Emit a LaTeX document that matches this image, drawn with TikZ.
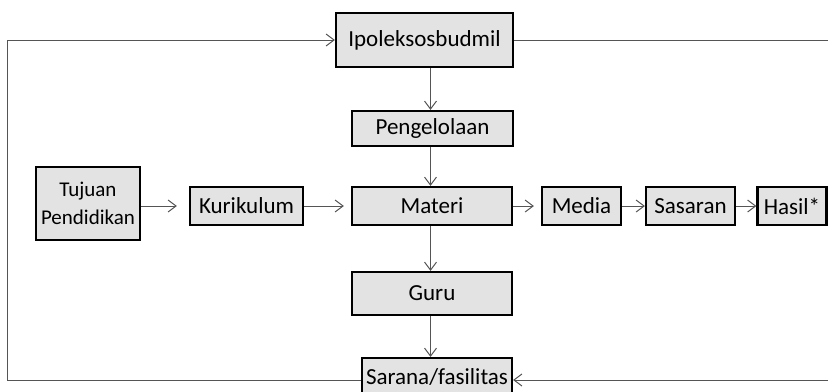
\documentclass[tikz,border=0pt]{standalone}
\usepackage{fontspec}
\setmainfont{Carlito}
\usetikzlibrary{positioning, arrows.meta}
\definecolor{boxgray}{HTML}{E3E3E3}
\definecolor{linegray}{HTML}{555555}

\begin{document}
\begin{tikzpicture}[x=0.5pt, y=-0.5pt, font=\fontsize{11.5}{13}\selectfont,
    block/.style={draw=black, line width=1.1pt, fill=boxgray, inner sep=1pt, align=center, minimum height=19pt},
    link/.style={draw=linegray, line width=0.5pt, -{Straight Barb[length=4pt,width=6pt]}}]

    \useasboundingbox (0,0) rectangle (828,391);

    % Define the boxes (nodes)
    \node[block, minimum width=88.5pt, minimum height=27pt] (ipol) at (424.5,40) {Ipoleksosbudmil};
    \node[block, minimum width=80.5pt, minimum height=17.5pt] (kelola) at (432.5,128.5) {Pengelolaan};
    \node[block, minimum width=80pt] (materi) at (432,206) {Materi};
    \node[block, minimum width=80pt, minimum height=21.5pt] (guru) at (432,293.5) {Guru};
    \node[block, minimum width=75pt] (sarana) at (437,377) {Sarana/fasilitas};
    \node[block, minimum width=52pt, minimum height=36.5pt, font=\fontsize{10.5}{14}\selectfont] (tujuan) at (88,203.5) {Tujuan\\Pendidikan};
    \node[block, minimum width=56.5pt] (kurik) at (246.5,206) {Kurikulum};
    \node[block, minimum width=39.5pt] (media) at (581.5,206) {Media};
    \node[block, minimum width=44.5pt] (sasaran) at (690.5,206) {Sasaran};
    \node[block, minimum width=34.5pt] (hasil) at (792,206) {Hasil*};

    % Corners of the feedback loop
    \coordinate (lt) at (7,40);
    \coordinate (lb) at (7,380);
    \coordinate (rt) at (834,40);
    \coordinate (rb) at (834,380);

    % Define the connectors
    \draw[link] (ipol.south -| 430.5,0) -- (kelola.north -| 430.5,0);
    \draw[link] (kelola.south -| 430.5,0) -- (materi.north -| 430.5,0);
    \draw[link] (materi.south -| 430.5,0) -- (guru.north -| 430.5,0);
    \draw[link] (guru.south -| 430.5,0) -- (sarana.north -| 430.5,0);
    \draw[link, shorten >=6pt] (tujuan.east |- kurik) -- (kurik.west);
    \draw[link, shorten >=3.5pt] (kurik) -- (materi);
    \draw[link, shorten >=3.5pt] (materi) -- (media);
    \draw[link] (media) -- (sasaran);
    \draw[link] (sasaran) -- (hasil);
    \draw[link] (sarana.west |- lb) -- (lb) -- (lt) -- (ipol.west);
    \draw[link] (ipol.east) -- (rt) -- (rb) -- (sarana.east |- rb);
\end{tikzpicture}
\end{document}
